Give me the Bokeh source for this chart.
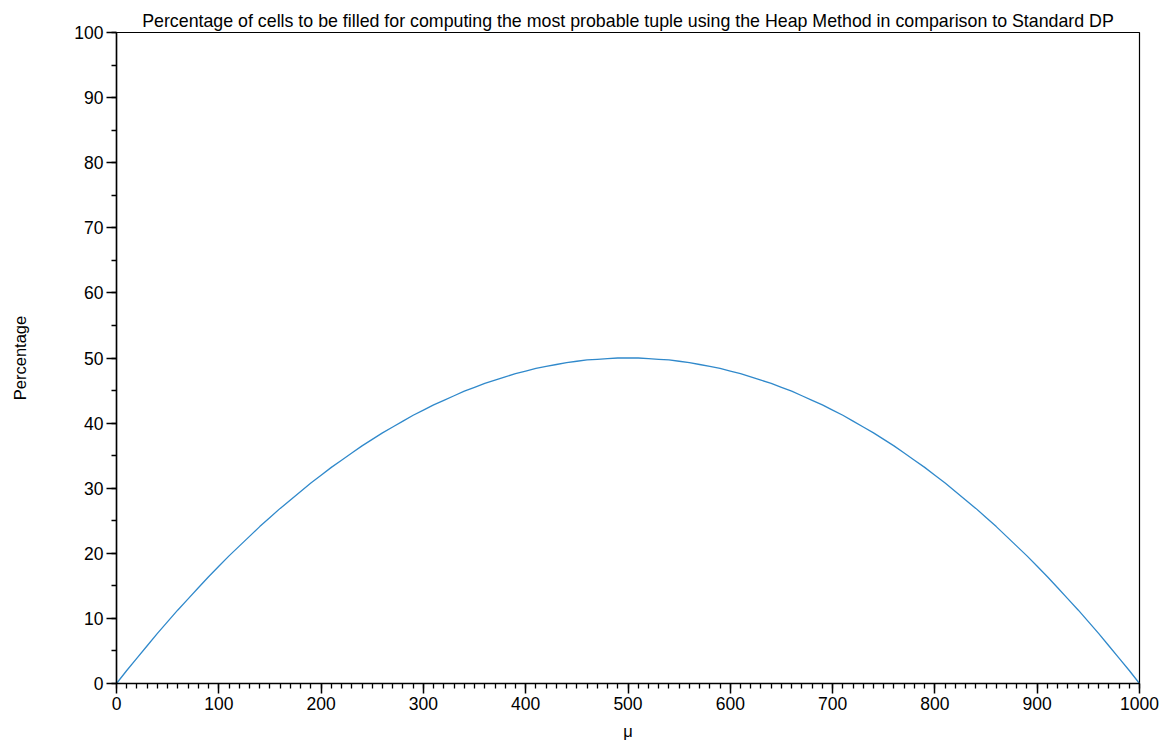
from bokeh.plotting import figure
from bokeh.models import SingleIntervalTicker, Range1d
from bokeh.embed import file_html
from bokeh.resources import INLINE

mu = list(range(0, 1001, 10))
percentage = [
    0.0, 2.0, 3.9, 5.8, 7.7, 9.5, 11.3, 13.0, 14.7, 16.4,
    18.0, 19.6, 21.1, 22.6, 24.1, 25.5, 26.9, 28.2, 29.5, 30.8,
    32.0, 33.2, 34.3, 35.4, 36.5, 37.5, 38.5, 39.4, 40.3, 41.2,
    42.0, 42.8, 43.5, 44.2, 44.9, 45.5, 46.1, 46.6, 47.1, 47.6,
    48.0, 48.4, 48.7, 49.0, 49.3, 49.5, 49.7, 49.8, 49.9, 50.0,
    50.0,
    50.0, 49.9, 49.8, 49.7, 49.5, 49.3, 49.0, 48.7, 48.4, 48.0,
    47.6, 47.1, 46.6, 46.1, 45.5, 44.9, 44.2, 43.5, 42.8, 42.0,
    41.2, 40.3, 39.4, 38.5, 37.5, 36.5, 35.4, 34.3, 33.2, 32.0,
    30.8, 29.5, 28.2, 26.9, 25.5, 24.1, 22.6, 21.1, 19.6, 18.0,
    16.4, 14.7, 13.0, 11.3, 9.5, 7.7, 5.8, 3.9, 2.0, 0.0,
]

FONT = "Liberation Sans"

p = figure(width=1160, height=742, output_backend="svg", toolbar_location=None,
           x_range=Range1d(0, 1000), y_range=Range1d(0, 100),
           title="Percentage of cells to be filled for computing the most probable tuple using the Heap Method in comparison to Standard DP",
           min_border_left=116, min_border_right=21, min_border_top=32, min_border_bottom=58)

p.line(mu, percentage, line_color="#3089cb", line_width=1.3, line_join="round")

p.title.align = "center"
p.title.text_font = FONT
p.title.text_font_size = "17.8px"
p.title.text_font_style = "normal"
p.title.text_color = "black"
p.title.standoff = 3

p.xgrid.visible = False
p.ygrid.visible = False
p.outline_line_color = "black"
p.outline_line_width = 1.2
p.outline_line_alpha = 1.0

p.xaxis.ticker = SingleIntervalTicker(interval=100, num_minor_ticks=10)
p.yaxis.ticker = SingleIntervalTicker(interval=10, num_minor_ticks=2)

for ax in (p.xaxis, p.yaxis):
    ax.axis_line_width = 1.5
    ax.axis_line_color = "black"
    ax.major_tick_line_color = "black"
    ax.minor_tick_line_color = "black"
    ax.major_tick_line_width = 1.5
    ax.minor_tick_line_width = 1.3
    ax.major_tick_in = 0
    ax.major_tick_out = 10
    ax.minor_tick_in = 0
    ax.minor_tick_out = 5
    ax.major_label_text_font = FONT
    ax.major_label_text_font_size = "17.5px"
    ax.major_label_text_color = "black"
    ax.axis_label_text_font = FONT
    ax.axis_label_text_font_size = "16.5px"
    ax.axis_label_text_font_style = "normal"
    ax.axis_label_text_color = "black"

p.xaxis.axis_label = "μ"
p.yaxis.axis_label = "Percentage"
p.xaxis.major_label_standoff = 3
p.yaxis.major_label_standoff = 3
p.xaxis.axis_label_standoff = 9
p.yaxis.axis_label_standoff = 42

open("out.html", "w").write(file_html(p, INLINE))
